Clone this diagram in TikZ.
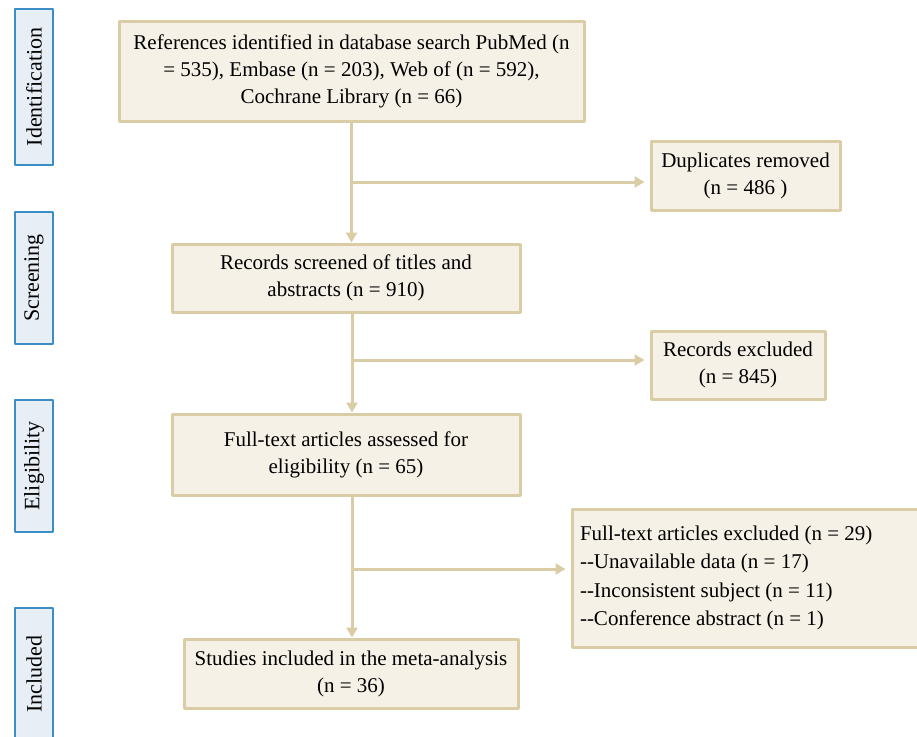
\documentclass[tikz,border=0pt]{standalone}
\usepackage{fontspec}
\setmainfont{Liberation Serif}
\usetikzlibrary{arrows.meta}
\definecolor{boxfill}{HTML}{F5F1E7}
\definecolor{boxline}{HTML}{DACCA5}
\definecolor{stagefill}{HTML}{E8EEF6}
\definecolor{stageline}{HTML}{3C8EC6}
\newcommand{\dashpair}{-\kern0pt-}
\tikzset{
	flowbox/.style={draw=boxline, fill=boxfill, line width=3pt, inner sep=0pt, align=center, font=\fontsize{21}{27}\selectfont},
	stagebox/.style={draw=stageline, fill=stagefill, line width=2.5pt, inner sep=0pt, rotate=90, minimum height=38, font=\fontsize{22}{26}\selectfont},
	flowline/.style={draw=boxline, line width=3pt, -{Triangle[length=10pt,width=11pt]}}
}
\begin{document}
\begin{tikzpicture}[x=1pt,y=-1pt, line join=round]
	\useasboundingbox (0,0) rectangle (917,736);
	% stages
	\node[stagebox, minimum width=156] (ident) at (34,87) {Identification};
	\node[stagebox, minimum width=132] (screen) at (34,278) {Screening};
	\node[stagebox, minimum width=132] (elig) at (34,466) {Eligibility};
	\node[stagebox, minimum width=132] (incl) at (34,674) {Included};
	% boxes
	\node[flowbox, minimum width=465, minimum height=100] (refs) at (351.5,71) {References identified in database search PubMed (n\\ = 535), Embase (n = 203), Web of (n = 592),\\ Cochrane Library (n = 66)};
	\node[flowbox, minimum width=189, minimum height=69] (dups) at (745.5,175.5) {Duplicates removed\\ (n = 486 )};
	\node[flowbox, minimum width=348, minimum height=68] (screened) at (346,278) {Records screened of titles and\\ abstracts (n = 910)};
	\node[flowbox, minimum width=174, minimum height=68] (recexcl) at (738,365) {Records excluded\\ (n = 845)};
	\node[flowbox, minimum width=348, minimum height=81] (fulltext) at (346,454.5) {Full-text articles assessed for\\ eligibility (n = 65)};
	\node[flowbox, minimum width=347, minimum height=138, text width=331, align=flush left, font=\fontsize{21}{28.5}\selectfont] (ftexcl) at (745.5,578) {Full-text articles excluded (n = 29)\\ \dashpair Unavailable data (n = 17)\\ \dashpair Inconsistent subject (n = 11)\\ \dashpair Conference abstract (n = 1)};
	\node[flowbox, minimum width=334, minimum height=69] (studies) at (351,673.5) {Studies included in the meta-analysis\\ (n = 36)};
	% branch points
	\coordinate (b1) at (352,182);
	\coordinate (b2) at (352,360);
	\coordinate (b3) at (352,569);
	% arrows
	\draw[flowline] (refs.south) -- (refs.south |- screened.north);
	\draw[flowline, shorten >=5pt] (b1) -- (b1 -| dups.west);
	\draw[flowline] (screened.south -| b2) -- (b2 |- fulltext.north);
	\draw[flowline, shorten >=5pt] (b2) -- (b2 -| recexcl.west);
	\draw[flowline] (fulltext.south -| b3) -- (b3 |- studies.north);
	\draw[flowline, shorten >=5pt] (b3) -- (b3 -| ftexcl.west);
\end{tikzpicture}
\end{document}
